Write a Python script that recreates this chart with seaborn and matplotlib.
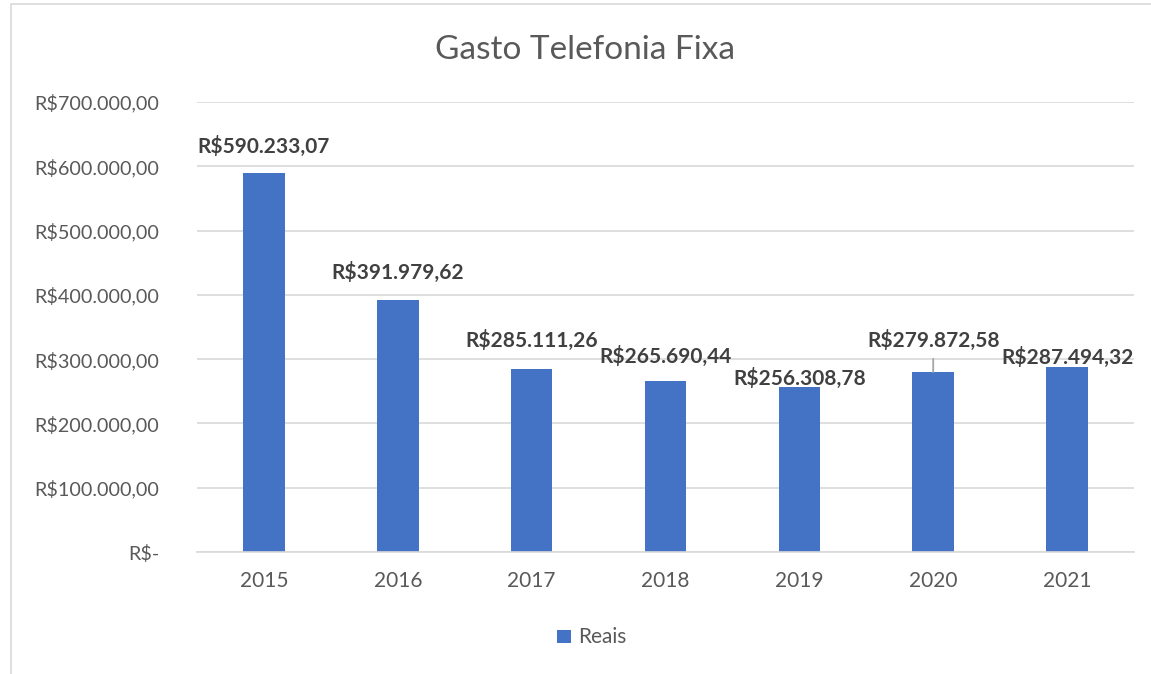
import matplotlib
matplotlib.use("Agg")
import matplotlib.pyplot as plt
import seaborn as sns
import pandas as pd
from matplotlib.patches import Rectangle

anos = ["2015", "2016", "2017", "2018", "2019", "2020", "2021"]
reais = [590233.07, 391979.62, 285111.26, 265690.44, 256308.78, 279872.58, 287494.32]
rotulos = ["R$590.233,07", "R$391.979,62", "R$285.111,26", "R$265.690,44",
           "R$256.308,78", "R$279.872,58", "R$287.494,32"]
ticks = [0, 100000, 200000, 300000, 400000, 500000, 600000, 700000]
tick_labels = ["R$-", "R$100.000,00", "R$200.000,00", "R$300.000,00",
               "R$400.000,00", "R$500.000,00", "R$600.000,00", "R$700.000,00"]

# label offsets above bar tops (points), as manually placed in the original
label_offsets = [18.5, 19.5, 20, 18, 6, 23, 7]

sns.set_theme(style="white")
plt.rcParams['font.family'] = ['Lato', 'DejaVu Sans']

W, H = 1151, 674
fig = plt.figure(figsize=(W / 100, H / 100), dpi=100)
ax = fig.add_axes([197 / W, 1 - 552 / H, (1134 - 197) / W, (552 - 102) / H])

df = pd.DataFrame({"Ano": anos, "Reais": reais})
blue = "#4472C4"
sns.barplot(data=df, x="Ano", y="Reais", color=blue, width=0.31, ax=ax,
            saturation=1, edgecolor="none")

ax.set_ylim(0, 700000)
ax.set_xlim(-0.5, len(anos) - 0.5)
ax.set_yticks(ticks)
ax.set_yticklabels(tick_labels)
ax.yaxis.grid(True, color="#D9D9D9", linewidth=1.2)
ax.set_axisbelow(True)
for s in ["top", "right", "left"]:
    ax.spines[s].set_visible(False)
ax.spines["bottom"].set_color("#D9D9D9")
ax.spines["bottom"].set_linewidth(1.2)
ax.tick_params(axis="y", length=0, pad=27, labelsize=14.2, labelcolor="#595959")
ax.tick_params(axis="x", length=0, pad=14, labelsize=15, labelcolor="#595959")
ax.set_xlabel("")
ax.set_ylabel("")

# data labels
for i, (v, lab, off) in enumerate(zip(reais, rotulos, label_offsets)):
    ax.annotate(lab, xy=(i, v), xytext=(0, off), textcoords="offset points",
                ha="center", va="center", fontsize=15, fontweight="bold",
                color="#404040", zorder=5)
    if i == 5:
        ax.annotate("", xy=(i, v), xytext=(0, 9.5), textcoords="offset points",
                    arrowprops=dict(arrowstyle="-", color="#A6A6A6", lw=1.3,
                                    shrinkA=0, shrinkB=0))

fig.text(585 / W, 1 - 50 / H, "Gasto Telefonia Fixa", ha="center", va="center",
         fontsize=24, color="#595959")

# legend
fig.patches.append(Rectangle((557 / W, 1 - 643 / H), 14 / W, 13 / H,
                             transform=fig.transFigure, facecolor=blue,
                             edgecolor="none"))
fig.text(578 / W, 1 - 637 / H, "Reais", ha="left", va="center",
         fontsize=15, color="#595959")

# chart border
fig.patches.append(Rectangle((11 / W, -0.1), 1.2, 1 - 4 / H + 0.1,
                             transform=fig.transFigure, facecolor="none",
                             edgecolor="#D9D9D9", linewidth=1.2))

fig.savefig("out.png", dpi=100, facecolor="white")
